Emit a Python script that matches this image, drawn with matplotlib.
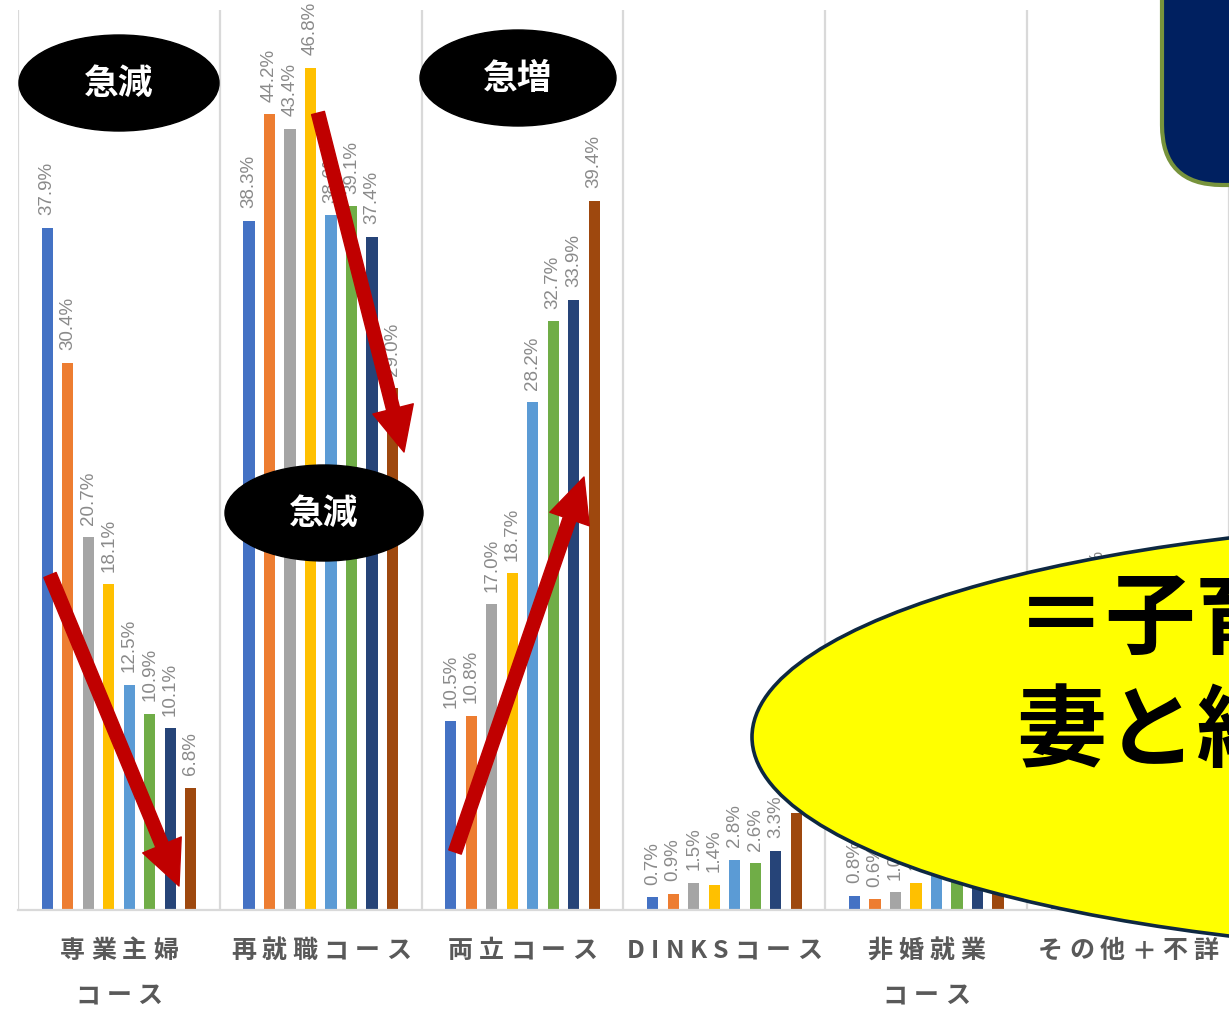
import numpy as np
import matplotlib.pyplot as plt
from matplotlib.patches import Ellipse, FancyArrowPatch, FancyBboxPatch, ArrowStyle

plt.rcParams['font.family'] = ['Noto Sans CJK JP', 'DejaVu Sans']

W, H = 1229, 1016

# categories (two-line labels) and 8 survey series
categories = ['専業主婦\nコース', '再就職コース', '両立コース', 'DINKSコース', '非婚就業\nコース', 'その他＋不詳']
s1 = [37.9, 38.3, 10.5, 0.7, 0.8, 11.8]
s2 = [30.4, 44.2, 10.8, 0.9, 0.6, 13.1]
s3 = [20.7, 43.4, 17.0, 1.5, 1.0, 16.4]
s4 = [18.1, 46.8, 18.7, 1.4, 1.5, 13.5]
s5 = [12.5, 38.6, 28.2, 2.8, 2.6, 15.3]
s6 = [10.9, 39.1, 32.7, 2.6, 2.9, 11.8]
s7 = [10.1, 37.4, 33.9, 3.3, 3.3, 12.0]
s8 = [6.8, 29.0, 39.4, 5.4, 4.5, 14.8]
series = [s1, s2, s3, s4, s5, s6, s7, s8]
colors = ['#4472C4', '#ED7D31', '#A5A5A5', '#FFC000', '#5B9BD5', '#70AD47', '#264478', '#9E480E']

fig = plt.figure(figsize=(W / 100, H / 100), dpi=100)
ax = fig.add_axes([18 / W, 106 / H, 1211 / W, 900 / H])

x = np.arange(len(categories))
step = 0.1015
for k, vals in enumerate(series):
    pos = x + (k - 3.5) * step
    ax.bar(pos, vals, width=0.055, color=colors[k], zorder=2)
    for p, v in zip(pos, vals):
        ax.annotate(f'{v:.1f}%', (p, v), xytext=(0, 9), textcoords='offset points',
                    rotation=90, ha='center', va='bottom', color='#8a8a8a',
                    fontsize=13.5, family='Liberation Sans', zorder=3)

ax.set_xlim(-0.5, len(categories) - 0.5)
ax.set_ylim(0, 50)
ax.set_xticks([])
ax.set_yticks([])
for b in np.arange(-0.5, len(categories), 1.0):
    ax.axvline(b, color='#d9d9d9', lw=1.6, zorder=1)
for s in ['top', 'right', 'left']:
    ax.spines[s].set_visible(False)
ax.spines['bottom'].set_color('#d9d9d9')
ax.spines['bottom'].set_linewidth(1.6)

# category labels with letter spacing
fig.canvas.draw()
rend = fig.canvas.get_renderer()
track = 6
for i, lab in enumerate(categories):
    cx = ax.transData.transform((i, 0))[0]
    for j, line in enumerate(lab.split('\n')):
        y = (H - 951 - 45 * j)
        ts = [fig.text(0, 0, ch, fontsize=18, fontweight='bold', color='#595959') for ch in line]
        ws = [t.get_window_extent(rend).width for t in ts]
        total = sum(ws) + track * (len(ws) - 1)
        left = cx - total / 2
        for t, w in zip(ts, ws):
            t.set_position((left / W, y / H))
            t.set_va('center')
            left += w + track


def px(xp, yp):
    return (xp / 100, (H - yp) / 100)


tr = fig.dpi_scale_trans

# red arrows
arrow = ArrowStyle.Simple(head_length=32, head_width=30, tail_width=9.5)
for a, b in [((50, 575), (179, 886)), ((318, 113), (404, 452)), ((455, 852), (584, 477))]:
    fig.patches.append(FancyArrowPatch(px(*a), px(*b), arrowstyle=arrow, mutation_scale=1,
                                       transform=tr, color='#c00000', shrinkA=0, shrinkB=0, zorder=5))

# black ovals
for (cx, cy, w, h, txt) in [(119, 83, 200, 96, '急減'), (324, 513, 198, 96, '急減'), (518, 78, 196, 96, '急増')]:
    fig.patches.append(Ellipse(px(cx, cy), w / 100, h / 100, transform=tr, color='black', zorder=6))
    fig.text(cx / W, (H - cy) / H, txt, color='white', fontsize=25, fontweight='bold',
             ha='center', va='center', zorder=7)

# yellow callout
fig.patches.append(Ellipse(px(1552, 737), 16.0, 4.35, transform=tr, facecolor='#ffff00',
                           edgecolor='#0e2841', lw=2.6, zorder=8))
fig.text(1016 / W, (H - 620) / H, '＝子育て', fontsize=65, fontweight='bold', color='black',
         ha='left', va='center', zorder=9)
fig.text(1016 / W, (H - 733) / H, '妻と経済', fontsize=65, fontweight='bold', color='black',
         ha='left', va='center', zorder=9)

# navy box at top right
fig.patches.append(FancyBboxPatch(px(1162, 185), 2.0, 3.0, boxstyle='round,pad=0,rounding_size=0.6',
                                  transform=tr, facecolor='#002060', edgecolor='#77933c', lw=3, zorder=10))

fig.savefig('out.png', dpi=100)
